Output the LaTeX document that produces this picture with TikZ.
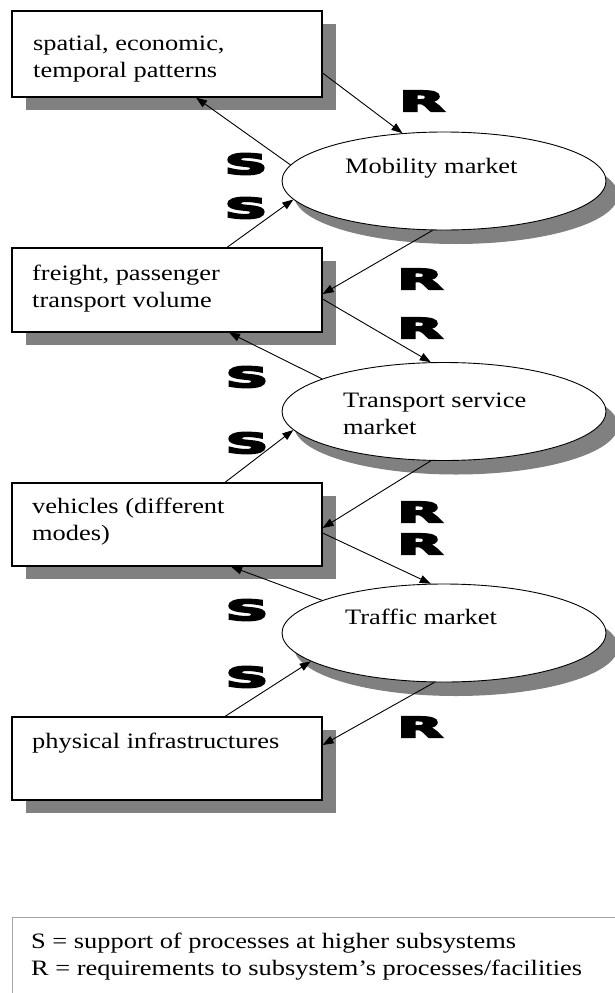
\documentclass[tikz,border=0pt]{standalone}
\usepackage{fontspec}
\setmainfont[FakeStretch=1.2]{Liberation Serif}
\newfontfamily\lblfont[FakeBold=6]{DejaVu Sans Bold}
\usetikzlibrary{shadows,arrows.meta,shapes.geometric}
\tikzset{
 box/.style={draw, line width=1.2pt, fill=white, minimum width=310pt, inner sep=0pt,
   drop shadow={shadow xshift=14pt, shadow yshift=-13pt, fill=gray, opacity=1}},
 mkt/.style={draw, ellipse, line width=0.9pt, fill=white, minimum width=324pt, minimum height=98pt, inner sep=0pt,
   drop shadow={shadow xshift=12pt, shadow yshift=-14pt, fill=gray, opacity=1}},
 txt/.style={anchor=base west, inner sep=0pt, font=\fontsize{22}{27}\selectfont, align=left},
 lbl/.style={inner sep=0pt, font=\fontsize{28}{28}\lblfont},
 arr/.style={line width=0.9pt, -{Triangle[length=11pt,width=8pt]}},
}
\newcommand{\wide}[1]{\scalebox{2.1}[1]{#1}}
\begin{document}
\begin{tikzpicture}[x=1pt,y=-1pt]
\useasboundingbox (0,0) rectangle (615,993);
% boxes
\node[box, minimum height=86pt] (b1) at (167,54) {};
\node[box, minimum height=84pt] (b2) at (167,290) {};
\node[box, minimum height=83pt] (b3) at (167,524.5) {};
\node[box, minimum height=83pt] (b4) at (167,758.5) {};
% ellipses
\node[mkt] (e1) at (444,181) {};
\node[mkt] (e2) at (444,411.5) {};
\node[mkt] (e3) at (444,633) {};
% texts (base = last line)
\node[txt] (t1) at (33,77) {spatial, economic,\\temporal patterns};
\node[txt] (t2) at (32,307) {freight, passenger\\transport volume};
\node[txt] (t3) at (32,540) {vehicles (different\\modes)};
\node[txt] (t4) at (32,748) {physical infrastructures};
\node[txt] (m1) at (345,173) {Mobility market};
\node[txt] (m2) at (343,434) {Transport service\\market};
\node[txt] (m3) at (345,624) {Traffic market};
% connectors
\draw[arr] ([yshift=-19pt]b1.east) -- (e1.131.6);
\draw[arr] (e1.174.4) -- ([xshift=29pt]b1.south);
\draw[arr] ([xshift=60pt]b2.north) -- (e1.187);
\draw[arr] (e1.257.3) -- ([yshift=-4pt]b2.east);
\draw[arr] ([yshift=-9pt]b2.east) -- (e2.105);
\draw[arr] (e2.165.9) -- ([xshift=62pt]b2.south);
\draw[arr] ([xshift=58pt]b3.north) -- (e2.187.6);
\draw[arr] (e2.255) -- ([yshift=-3.5pt]b3.east);
\draw[arr] ([yshift=-8.5pt]b3.east) -- (e3.105);
\draw[arr] (e3.165.4) -- ([xshift=64pt]b3.south);
\draw[arr] ([xshift=58pt]b4.north) -- (e3.192.9);
\draw[arr] (e3.259.8) -- ([yshift=13.5pt]b4.east);
% labels
\node[lbl] (r1) at (422,101) {\wide{R}};
\node[lbl] (r2) at (420,279) {\wide{R}};
\node[lbl] (r3) at (420,328) {\wide{R}};
\node[lbl] (r4) at (420,512) {\wide{R}};
\node[lbl] (r5) at (420,544) {\wide{R}};
\node[lbl] (r6) at (420,727) {\wide{R}};
\node[lbl] (s1) at (246,164) {\wide{S}};
\node[lbl] (s2) at (246,208) {\wide{S}};
\node[lbl] (s3) at (247,377) {\wide{S}};
\node[lbl] (s4) at (247,443) {\wide{S}};
\node[lbl] (s5) at (247,610) {\wide{S}};
\node[lbl] (s6) at (247,677) {\wide{S}};
% legend
\node[draw=gray!70, line width=1pt, anchor=north west, minimum width=700pt, minimum height=120pt, inner sep=0pt] (legend) at (12,917) {};
\node[txt] (lt) at (31,975) {S = support of processes at higher subsystems\\R = requirements to subsystem’s processes/facilities};
\end{tikzpicture}
\end{document}
